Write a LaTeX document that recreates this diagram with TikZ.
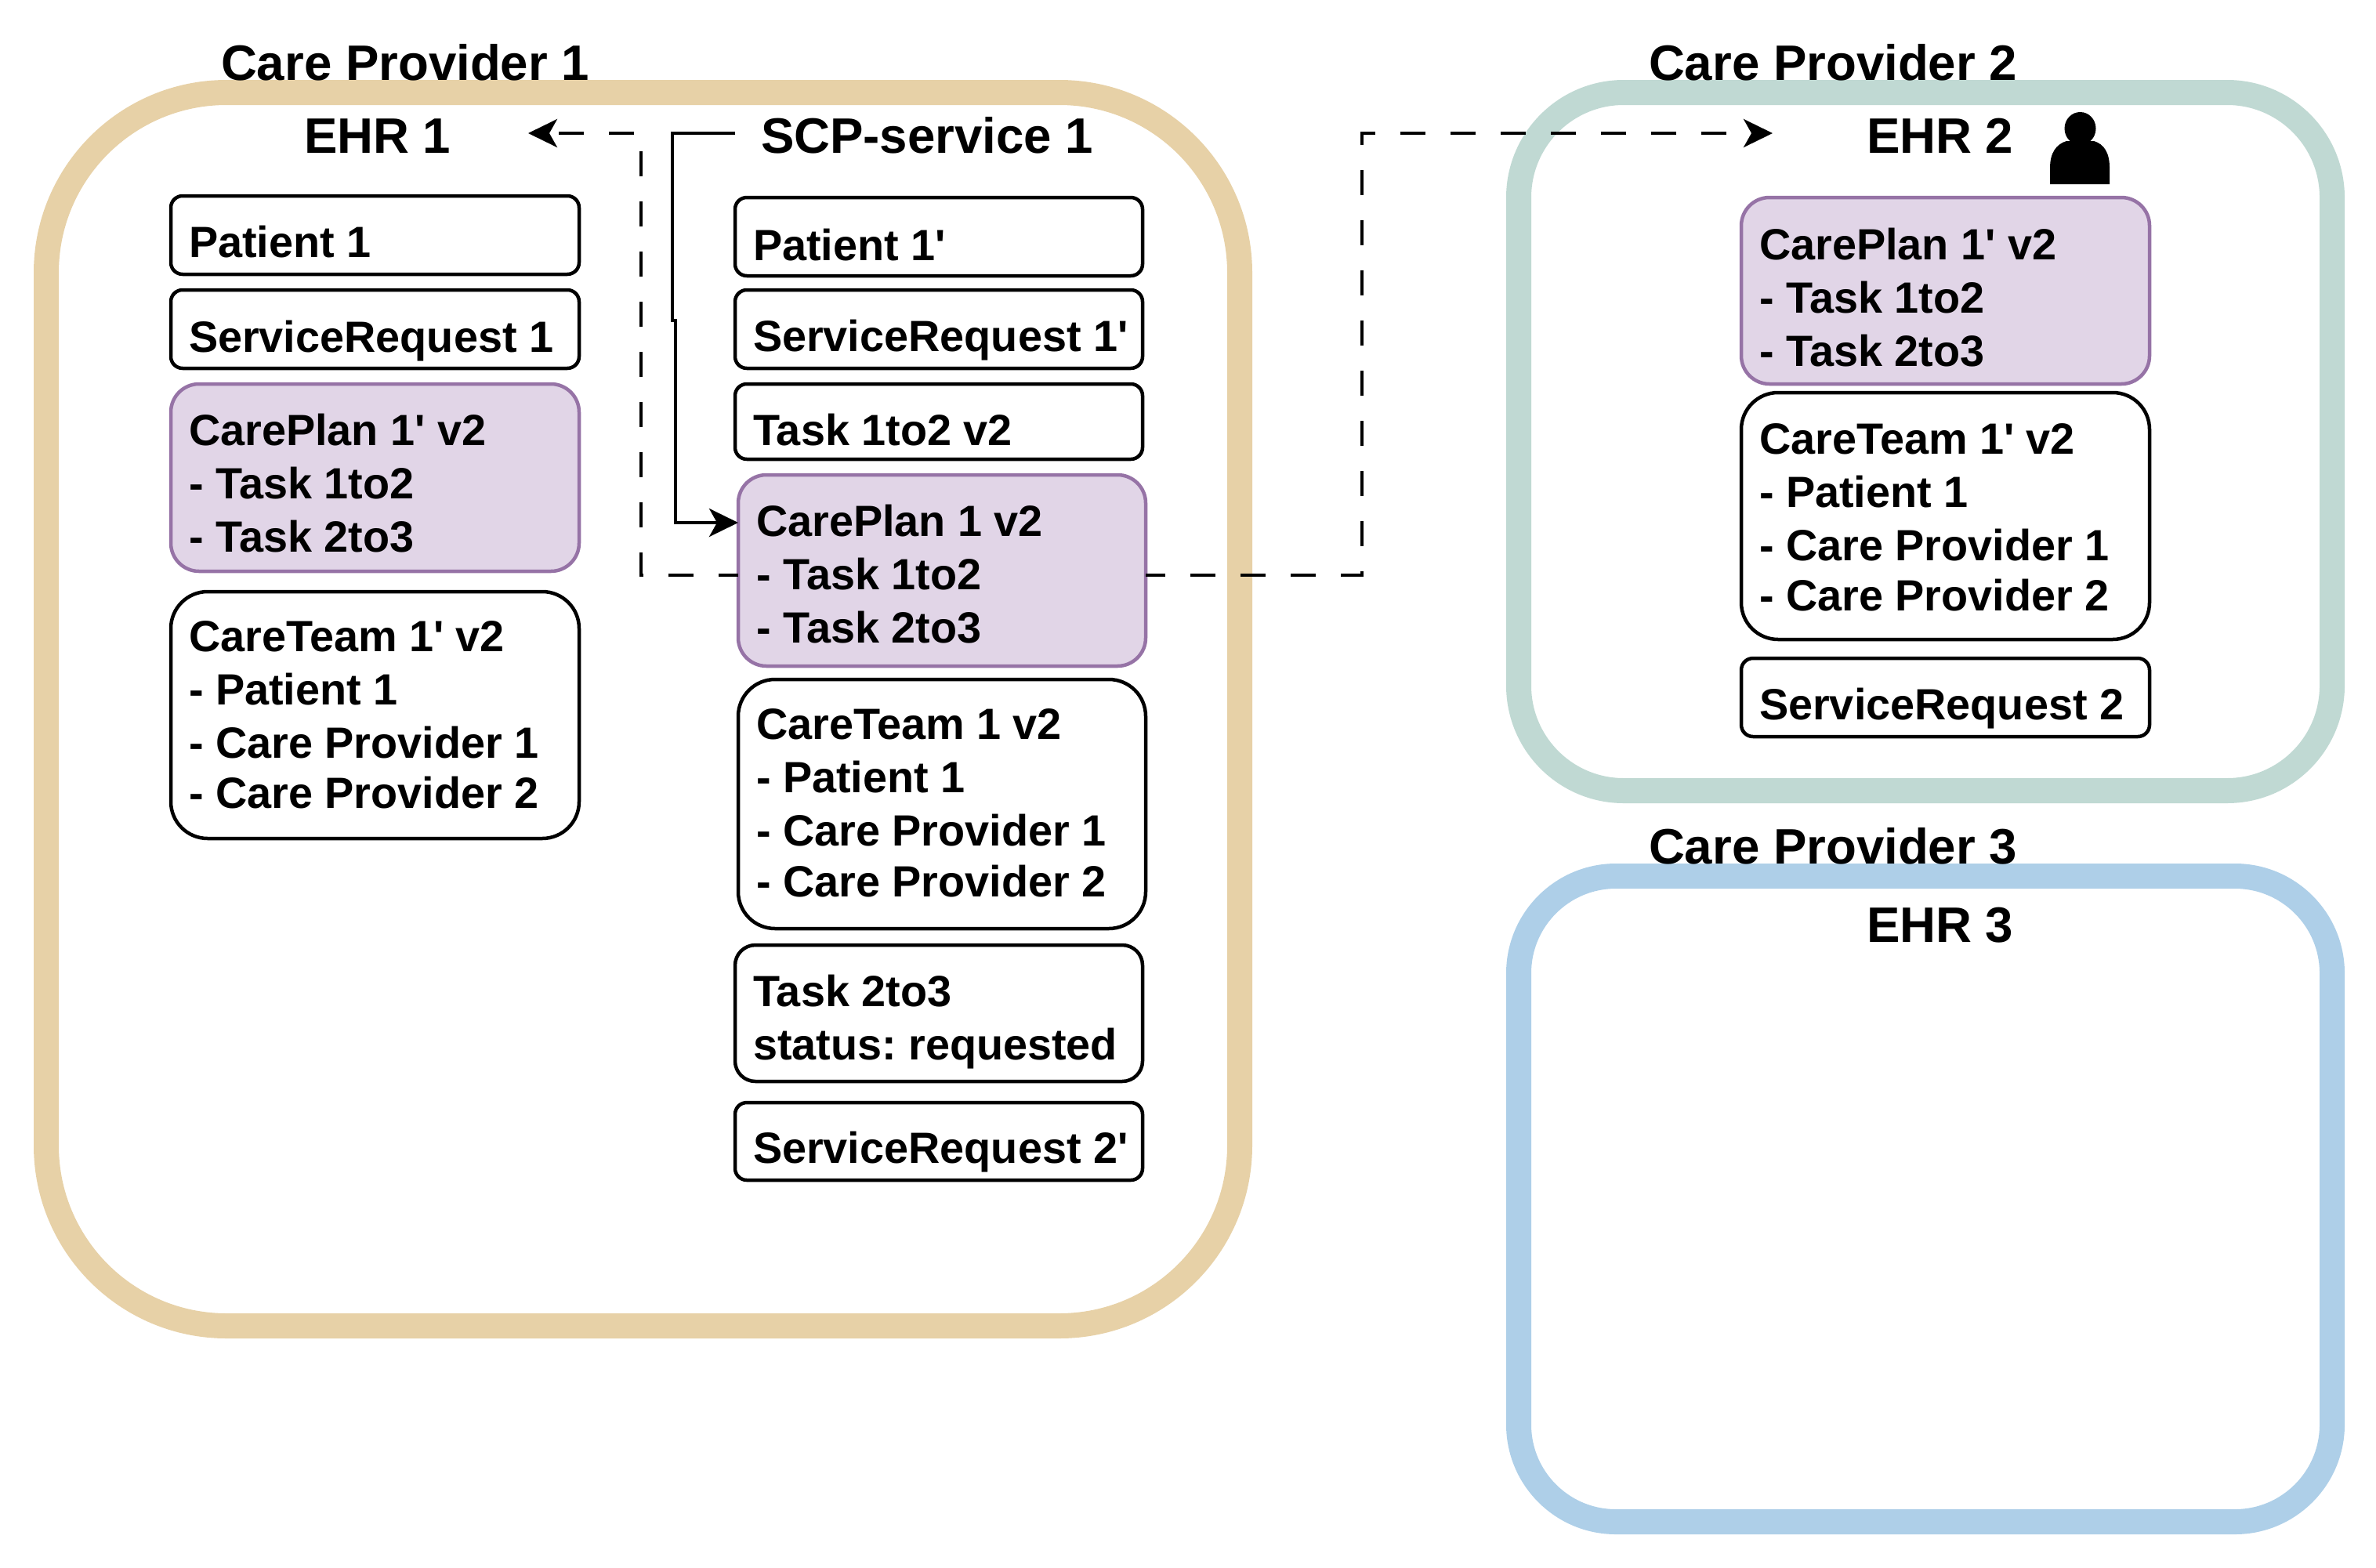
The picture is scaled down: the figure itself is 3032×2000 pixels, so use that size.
\documentclass[tikz,border=0pt]{standalone}
\usepackage{fontspec}
\newfontfamily\lab{Liberation Sans}
\usetikzlibrary{arrows.meta}
\definecolor{tanc}{HTML}{E7D1A7}
\definecolor{greenc}{HTML}{C0D9D3}
\definecolor{bluec}{HTML}{AECFE8}
\definecolor{plumfill}{HTML}{E1D5E7}
\definecolor{plumline}{HTML}{9673A6}
\newcommand{\lines}[1]{\begin{tabular}[t]{@{}l@{}}#1\end{tabular}}
\frenchspacing
\tikzset{
  x=1pt,y=-1pt,
  provider/.style={draw,line width=32pt,anchor=north west,inner sep=0pt,outer sep=0pt,fill=none},
  cardbox/.style={draw=black,line width=4.5pt,fill=white,anchor=north west,inner sep=0pt,outer sep=0pt},
  plan/.style={cardbox,draw=plumline,fill=plumfill},
  rsmall/.style={rounded corners=15pt},
  rtask/.style={rounded corners=26pt},
  rplan/.style={rounded corners=36pt},
  rteam/.style={rounded corners=47pt},
  cardtext/.style={anchor=base west,inner sep=0pt,outer sep=0pt,font=\lab\bfseries\fontsize{55.8}{68}\selectfont},
  headtext/.style={anchor=base west,inner sep=0pt,outer sep=0pt,font=\lab\bfseries\fontsize{63.6}{70}\selectfont},
  flow/.style={line width=4pt,-{Stealth[length=37pt,width=36pt,inset=10pt]}},
  dashflow/.style={flow,dash pattern=on 32pt off 32pt,dash phase=7pt},
}
\begin{document}
\begin{tikzpicture}
\useasboundingbox (0,0) rectangle (3032,2000);
% providers
\node[provider,draw=tanc,rounded corners=230pt,minimum width=1523pt,minimum height=1574pt] (cp1) at (59,118) {};
\node[provider,draw=greenc,rounded corners=134pt,minimum width=1038pt,minimum height=891pt] (cp2) at (1938,118) {};
\node[provider,draw=bluec,rounded corners=124pt,minimum width=1038pt,minimum height=824pt] (cp3) at (1938,1118) {};
\node[headtext] (cp1t) at (282,102) {Care Provider 1};
\node[headtext] (cp2t) at (2104,102) {Care Provider 2};
\node[headtext] (cp3t) at (2104,1102) {Care Provider 3};
\node[headtext] (ehr1) at (388,195) {EHR 1};
\node[headtext] (scp) at (971,195) {SCP-service 1};
\node[headtext] (ehr2) at (2382,195) {EHR 2};
\node[headtext] (ehr3) at (2382,1202) {EHR 3};
% EHR 1
\node[cardbox,rsmall,minimum width=521pt,minimum height=100pt] (a1) at (218,250) {};
\node[cardtext] (a1t) at (241,328) {Patient 1};
\node[cardbox,rsmall,minimum width=521pt,minimum height=100pt] (a2) at (218,370) {};
\node[cardtext] (a2t) at (241,449) {ServiceRequest 1};
\node[plan,rplan,minimum width=521pt,minimum height=239pt] (a3) at (218,490) {};
\node[cardtext] (a3t) at (241,568) {\lines{CarePlan 1' v2\\- Task 1to2\\- Task 2to3}};
\node[cardbox,rteam,minimum width=521pt,minimum height=315pt] (a4) at (218,755) {};
\node[cardtext] (a4t) at (241,831) {\lines{CareTeam 1' v2\\- Patient 1\\- Care Provider 1\\[-4pt]- Care Provider 2}};
% SCP-service 1
\node[cardbox,rsmall,minimum width=520pt,minimum height=100pt] (b1) at (938,252) {};
\node[cardtext] (b1t) at (961,332) {Patient 1'};
\node[cardbox,rsmall,minimum width=520pt,minimum height=100pt] (b2) at (938,370) {};
\node[cardtext] (b2t) at (961,448) {ServiceRequest 1'};
\node[cardbox,rsmall,minimum width=520pt,minimum height=96pt] (b3) at (938,490) {};
\node[cardtext] (b3t) at (961,568) {Task 1to2 v2};
\node[plan,rplan,minimum width=520pt,minimum height=244pt] (b4) at (942,606) {};
\node[cardtext] (b4t) at (965,684) {\lines{CarePlan 1 v2\\- Task 1to2\\- Task 2to3}};
\node[cardbox,rteam,minimum width=520pt,minimum height=318pt] (b5) at (942,867) {};
\node[cardtext] (b5t) at (965,943) {\lines{CareTeam 1 v2\\- Patient 1\\- Care Provider 1\\[-3pt]- Care Provider 2}};
\node[cardbox,rtask,minimum width=520pt,minimum height=174pt] (b6) at (938,1206) {};
\node[cardtext] (b6t) at (961,1284) {\lines{Task 2to3\\status: requested}};
\node[cardbox,rsmall,minimum width=520pt,minimum height=99pt] (b7) at (938,1407) {};
\node[cardtext] (b7t) at (961,1484) {ServiceRequest 2'};
% EHR 2
\node[plan,rplan,minimum width=521pt,minimum height=238pt] (c1) at (2222,252) {};
\node[cardtext] (c1t) at (2245,331) {\lines{CarePlan 1' v2\\- Task 1to2\\- Task 2to3}};
\node[cardbox,rteam,minimum width=521pt,minimum height=315pt] (c2) at (2222,501) {};
\node[cardtext] (c2t) at (2245,579) {\lines{CareTeam 1' v2\\- Patient 1\\- Care Provider 1\\[-4pt]- Care Provider 2}};
\node[cardbox,rsmall,minimum width=521pt,minimum height=100pt] (c3) at (2222,840) {};
\node[cardtext] (c3t) at (2245,918) {ServiceRequest 2};
% person
\fill[black] (2654.5,164) ellipse [x radius=20pt,y radius=21pt];
\fill[black] (2616,235) -- (2616,214) .. controls (2616,195) and (2624,184) .. (2637,180)
  -- (2672,180)
  .. controls (2685,184) and (2692,195) .. (2692,214) -- (2692,235) -- cycle;
% connector ends
\coordinate (e1in) at (674,170);
\coordinate (e2in) at (2262,170);
\coordinate (scpout) at (938,170);
% connectors
\draw[dashflow] ([yshift=-6pt]b4.west) -| (818,170) -- (e1in);
\draw[dashflow] ([yshift=-6pt]b4.east) -| (1738,170) -- (e2in);
\draw[flow] (scpout) -- (858,170) -- (858,409) -- (862,409) -- (862,667) -- (b4.west |- 0,667);
\end{tikzpicture}
\end{document}
